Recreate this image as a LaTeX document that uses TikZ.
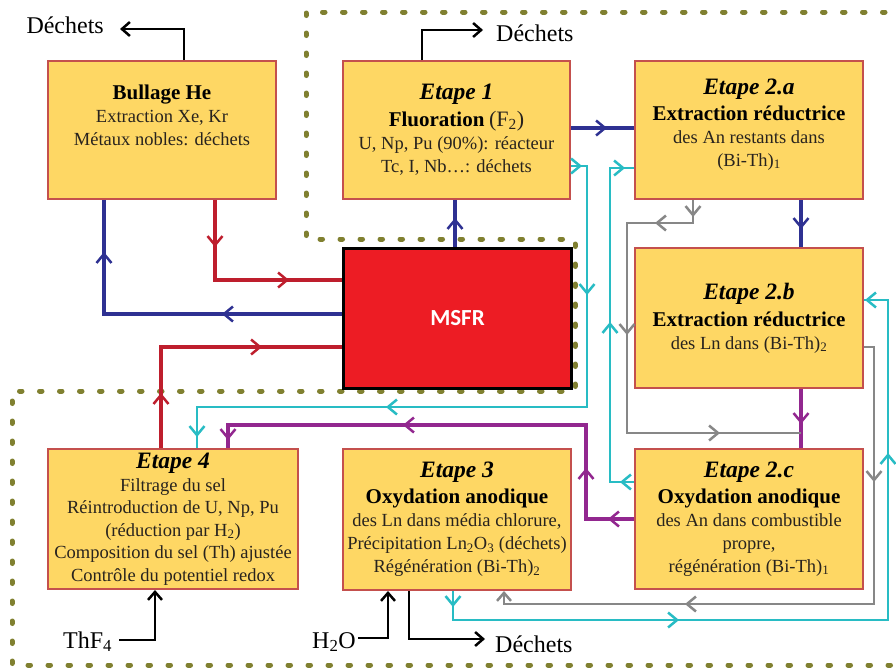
\documentclass[tikz,border=0pt]{standalone}
\usepackage{fontspec}
\setmainfont{Liberation Serif}
\newfontfamily\msfrfont{Carlito}
\usetikzlibrary{arrows.meta,decorations.markings}
\definecolor{boxfill}{RGB}{254,215,100}
\definecolor{boxline}{RGB}{196,80,77}
\definecolor{cblue}{RGB}{46,49,146}
\definecolor{cred}{RGB}{190,30,45}
\definecolor{cpurple}{RGB}{146,39,143}
\definecolor{ccyan}{RGB}{40,188,196}
\definecolor{cgray}{RGB}{135,135,135}
\definecolor{dotcol}{RGB}{128,128,48}
\definecolor{msfrred}{RGB}{237,28,36}
\definecolor{txt}{RGB}{40,35,30}
\newcommand\txtR{\fontsize{18.5}{23}\selectfont}
\newcommand\txtT{\fontsize{23.5}{26}\selectfont\bfseries\itshape\color{black}}
\newcommand\txtB{\fontsize{21}{24}\selectfont\bfseries\color{black}}
\newcommand\txtL{\fontsize{24}{28}\selectfont}
\tikzset{
  box/.style={draw=boxline, line width=2pt, fill=boxfill, anchor=north west, align=center,
    inner sep=0pt, text=txt, font=\txtR, minimum width=228pt, minimum height=138pt},
  lbl/.style={font=\txtL, text=black, inner sep=0pt},
  lnblue/.style={draw=cblue, color=cblue, line width=4pt},
  lnred/.style={draw=cred, color=cred, line width=4pt},
  lnpurple/.style={draw=cpurple, color=cpurple, line width=4pt},
  lncyan/.style={draw=ccyan, color=ccyan, line width=2.5pt},
  lngray/.style={draw=cgray, color=cgray, line width=2.5pt},
  lnblack/.style={draw=black, color=black, line width=2.5pt},
  marr/.style={postaction={decorate, decoration={markings, mark=at position #1 with {\arrow{Straight Barb[length=9pt,width=15pt,line width=2.5pt]}}}}},
  dotline/.style={draw=dotcol, line width=5pt, line cap=round, dash pattern=on 2.5pt off 17.5pt}
}
\begin{document}
\begin{tikzpicture}[x=1pt, y=-1pt, >={Straight Barb[length=8pt,width=14pt]}]
\useasboundingbox (0,0) rectangle (896,670);
% dotted regions
\draw[dotline] (905,12) -- (306,12) -- (306,239) -- (575,239) -- (575,391) -- (12,391) -- (12,665) -- (905,665);

% boxes
\node[box] (bh) at (47,60) {{\txtB Bullage He}\\ Extraction Xe, Kr\\ Métaux nobles: déchets\\[6pt]\mbox{}};
\node[box, minimum width=227pt] (e1) at (342,60) {{\txtT Etape 1}\\[4pt] {\txtB Fluoration} {\fontsize{22}{24}\selectfont(F\textsubscript{2})}\\ U, Np, Pu (90\%): réacteur\\ Tc, I, Nb…: déchets};
\node[box] (e2a) at (634,60) {{\txtT Etape 2.a}\\[3pt] {\txtB Extraction réductrice}\\ des An restants dans\\ (Bi-Th)\textsubscript{1}\\[-8pt]\mbox{}};
\node[box, minimum height=140pt] (e2b) at (634,247) {{\txtT Etape 2.b}\\[4pt] {\txtB Extraction réductrice}\\ des Ln dans (Bi-Th)\textsubscript{2}};
\node[box, minimum height=140pt] (e2c) at (634,448) {{\txtT Etape 2.c}\\[3pt] {\txtB Oxydation anodique}\\ des An dans combustible\\ propre,\\ régénération (Bi-Th)\textsubscript{1}};
\node[box, minimum height=141pt] (e3) at (342,448) {{\txtT Etape 3}\\[3pt] {\txtB Oxydation anodique}\\ des Ln dans média chlorure,\\ Précipitation Ln\textsubscript{2}O\textsubscript{3} (déchets)\\ Régénération (Bi-Th)\textsubscript{2}};
\node[box, minimum width=250pt, minimum height=140pt, font=\fontsize{18.5}{22.5}\selectfont] (e4) at (47,448) {{\txtT Etape 4}\\ Filtrage du sel\\ Réintroduction de U, Np, Pu\\ (réduction par H\textsubscript{2})\\ Composition du sel (Th) ajustée\\ Contrôle du potentiel redox};
\node[draw=black, line width=3pt, fill=msfrred, anchor=north west, minimum width=228pt, minimum height=140pt,
  text=white, font={\msfrfont\bfseries\fontsize{23}{26}\selectfont}] (msfr) at (342,247) {MSFR};

% labels
\node[lbl, anchor=base east] (dech1) at (104,33) {Déchets};
\node[lbl, anchor=base west] (dech2) at (496,41) {Déchets};
\node[lbl, anchor=base west] (dech3) at (495,652) {Déchets};
\node[lbl, anchor=base west] (thf) at (63,648) {ThF\textsubscript{4}};
\node[lbl, anchor=base east] (h2o) at (356,648) {H\textsubscript{2}O};

% black connectors
\draw[lnblack, ->, shorten >=16pt] (bh.north -| 184,0) |- (dech1.east |- 0,29);
\draw[lnblack, ->, shorten >=13pt] (e1.north -| 422,0) |- (dech2.west |- 0,30);
\draw[lnblack, ->, shorten >=10pt] (e3.south -| 409,0) |- (dech3.west |- 0,639);
\draw[lnblack, ->, shorten <=7pt] (thf.east |- 0,640) -| (e4.south -| 155,0);
\draw[lnblack, ->, shorten <=2pt] (h2o.east |- 0,638) -| (e3.south -| 388,0);

% blue
\draw[lnblue, marr=36pt] (e1.east |- 0,128) -- (e2a.west |- 0,128);
\draw[lnblue, marr=29pt] (msfr.north -| 455,0) -- (e1.south -| 455,0);
\draw[lnblue, marr=29pt] (e2a.south -| 801,0) -- (e2b.north -| 801,0);
\draw[lnblue, marr=120pt, marr=300pt] (msfr.west |- 0,314) -| (bh.south -| 104,0);

% red
\draw[lnred, marr=47pt, marr=154pt] (bh.south -| 215,0) |- (msfr.west |- 0,280);
\draw[lnred, marr=55pt, marr=202pt] (e4.north -| 161,0) |- (msfr.west |- 0,347);

% purple
\draw[lnpurple, marr=35pt] (e2b.south -| 801,0) -- (e2c.north -| 801,0);
\draw[lnpurple, marr=26pt, marr=99pt, marr=325pt, marr=515pt] (e2c.west |- 0,519) -| (586,425) -| (e4.north -| 228,0);

% gray
\coordinate (j1) at (801,433);
\draw[lngray, marr=17pt, marr=61pt, marr=201pt, marr=392pt] (e2a.south -| 693,0) |- (627,223) |- (j1);
\draw[lngray, ->, marr=145pt, marr=456pt] (e2b.east |- 0,347) -| (874,604) -| (e3.south -| 504,0);

% cyan
\draw[lncyan, marr=14pt, marr=184pt, marr=353pt] (e2c.west |- 0,482) -| (610,168) -- (e2a.west |- 0,168);
\draw[lncyan, marr=11pt, marr=145pt, marr=458pt, marr=677pt] (e1.east |- 0,166) -| (587,407) -| (e4.north -| 197,0);
\draw[lncyan, marr=16pt, marr=255pt, marr=631pt, marr=807pt] (e3.south -| 453,0) |- (888,620) |- (e2b.east |- 0,300);
\end{tikzpicture}
\end{document}
